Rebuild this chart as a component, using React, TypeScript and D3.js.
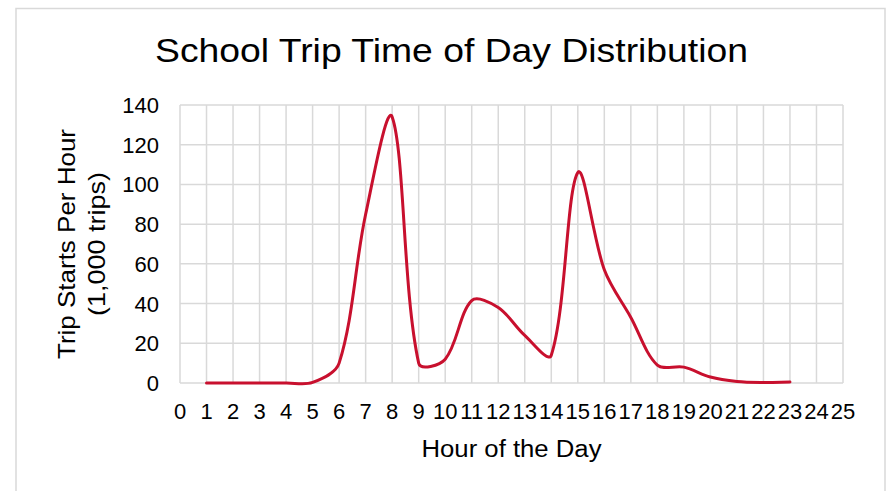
import React from "react";
import * as d3 from "d3";

const hours = [1, 2, 3, 4, 5, 6, 7, 8, 9, 10, 11, 12, 13, 14, 15, 16, 17, 18, 19, 20, 21, 22, 23];
const trips = [0, 0, 0, 0, 0.3, 10, 85, 134, 10, 12, 41.5, 38, 24, 14, 106, 57, 33, 9, 8, 3, 0.8, 0.3, 0.5];
const xTicks = d3.range(0, 26);
const yTicks = [0, 20, 40, 60, 80, 100, 120, 140];

const W = 888;
const H = 491;
const M = { left: 180, right: 843, top: 105, bottom: 383 };
const font = "'Liberation Sans', Arial, sans-serif";

// Spreadsheet-style smoothing: Bezier controls along the neighbour chord, weighted by segment lengths
function smoothCurve(context: any) {
  let pts: [number, number][] = [];
  return {
    areaStart() {},
    areaEnd() {},
    lineStart() {
      pts = [];
    },
    point(x: number, y: number) {
      pts.push([+x, +y]);
    },
    lineEnd() {
      const n = pts.length;
      if (!n) return;
      context.moveTo(pts[0][0], pts[0][1]);
      const dist = (a: number[], b: number[]) => Math.hypot(b[0] - a[0], b[1] - a[1]);
      for (let i = 0; i < n - 1; i++) {
        const p0 = pts[i - 1] || pts[i];
        const p1 = pts[i];
        const p2 = pts[i + 1];
        const p3 = pts[i + 2] || pts[i + 1];
        const a1 = dist(p0, p1), b1 = dist(p1, p2);
        const a2 = dist(p1, p2), b2 = dist(p2, p3);
        const g1 = a1 === 0 ? 1 / 3 : b1 / (a1 + b1) / 3;
        const f2 = b2 === 0 ? 1 / 3 : a2 / (a2 + b2) / 3;
        const c1x = p1[0] + (p2[0] - p0[0]) * g1;
        const c1y = p1[1] + (p2[1] - p0[1]) * g1;
        const c2x = p2[0] - (p3[0] - p1[0]) * f2;
        const c2y = p2[1] - (p3[1] - p1[1]) * f2;
        context.bezierCurveTo(c1x, c1y, c2x, c2y, p2[0], p2[1]);
      }
    },
  };
}

export default function App() {
  const x = d3.scaleLinear().domain([0, 25]).range([M.left, M.right]);
  const y = d3.scaleLinear().domain([0, 140]).range([M.bottom, M.top]);
  const line = d3
    .line<number>()
    .x((_, i) => x(hours[i]))
    .y((d) => y(d))
    .curve(smoothCurve as any);
  return (
    <svg width={W} height={H} style={{ position: "absolute", left: 0, top: 0 }}>
      <rect x={0} y={0} width={W} height={H} fill="#fff" />
      <rect x={16} y={8.5} width={869} height={500} fill="#fff" stroke="#d9d9d9" strokeWidth={1.5} />
      <text x={155} y={62} fontFamily={font} fontSize={33} fill="#000" textLength={593} lengthAdjust="spacingAndGlyphs">
        School Trip Time of Day Distribution
      </text>
      {xTicks.map((t) => (
        <line key={"gx" + t} x1={x(t)} x2={x(t)} y1={M.top} y2={M.bottom} stroke="#d9d9d9" strokeWidth={1.5} />
      ))}
      {yTicks.map((t) => (
        <line key={"gy" + t} x1={M.left} x2={M.right} y1={y(t)} y2={y(t)} stroke="#d9d9d9" strokeWidth={1.5} />
      ))}
      {yTicks.map((t) => (
        <text key={"ty" + t} x={159} y={y(t) + 8} textAnchor="end" fontFamily={font} fontSize={22} fill="#000">
          {t}
        </text>
      ))}
      {xTicks.map((t) => (
        <text key={"tx" + t} x={x(t)} y={419} textAnchor="middle" fontFamily={font} fontSize={22} fill="#000">
          {t}
        </text>
      ))}
      <text x={421.5} y={457} fontFamily={font} fontSize={23} fill="#000" textLength={180} lengthAdjust="spacingAndGlyphs">
        Hour of the Day
      </text>
      <g transform={`translate(0, 244) rotate(-90)`}>
        <text x={-115} y={75} fontFamily={font} fontSize={24} fill="#000" textLength={230} lengthAdjust="spacingAndGlyphs">
          Trip Starts Per Hour
        </text>
        <text x={-72} y={105} fontFamily={font} fontSize={24} fill="#000" textLength={144} lengthAdjust="spacingAndGlyphs">
          (1,000 trips)
        </text>
      </g>
      <path d={line(trips) || ""} fill="none" stroke="#C8102E" strokeWidth={3} strokeLinecap="round" />
    </svg>
  );
}
